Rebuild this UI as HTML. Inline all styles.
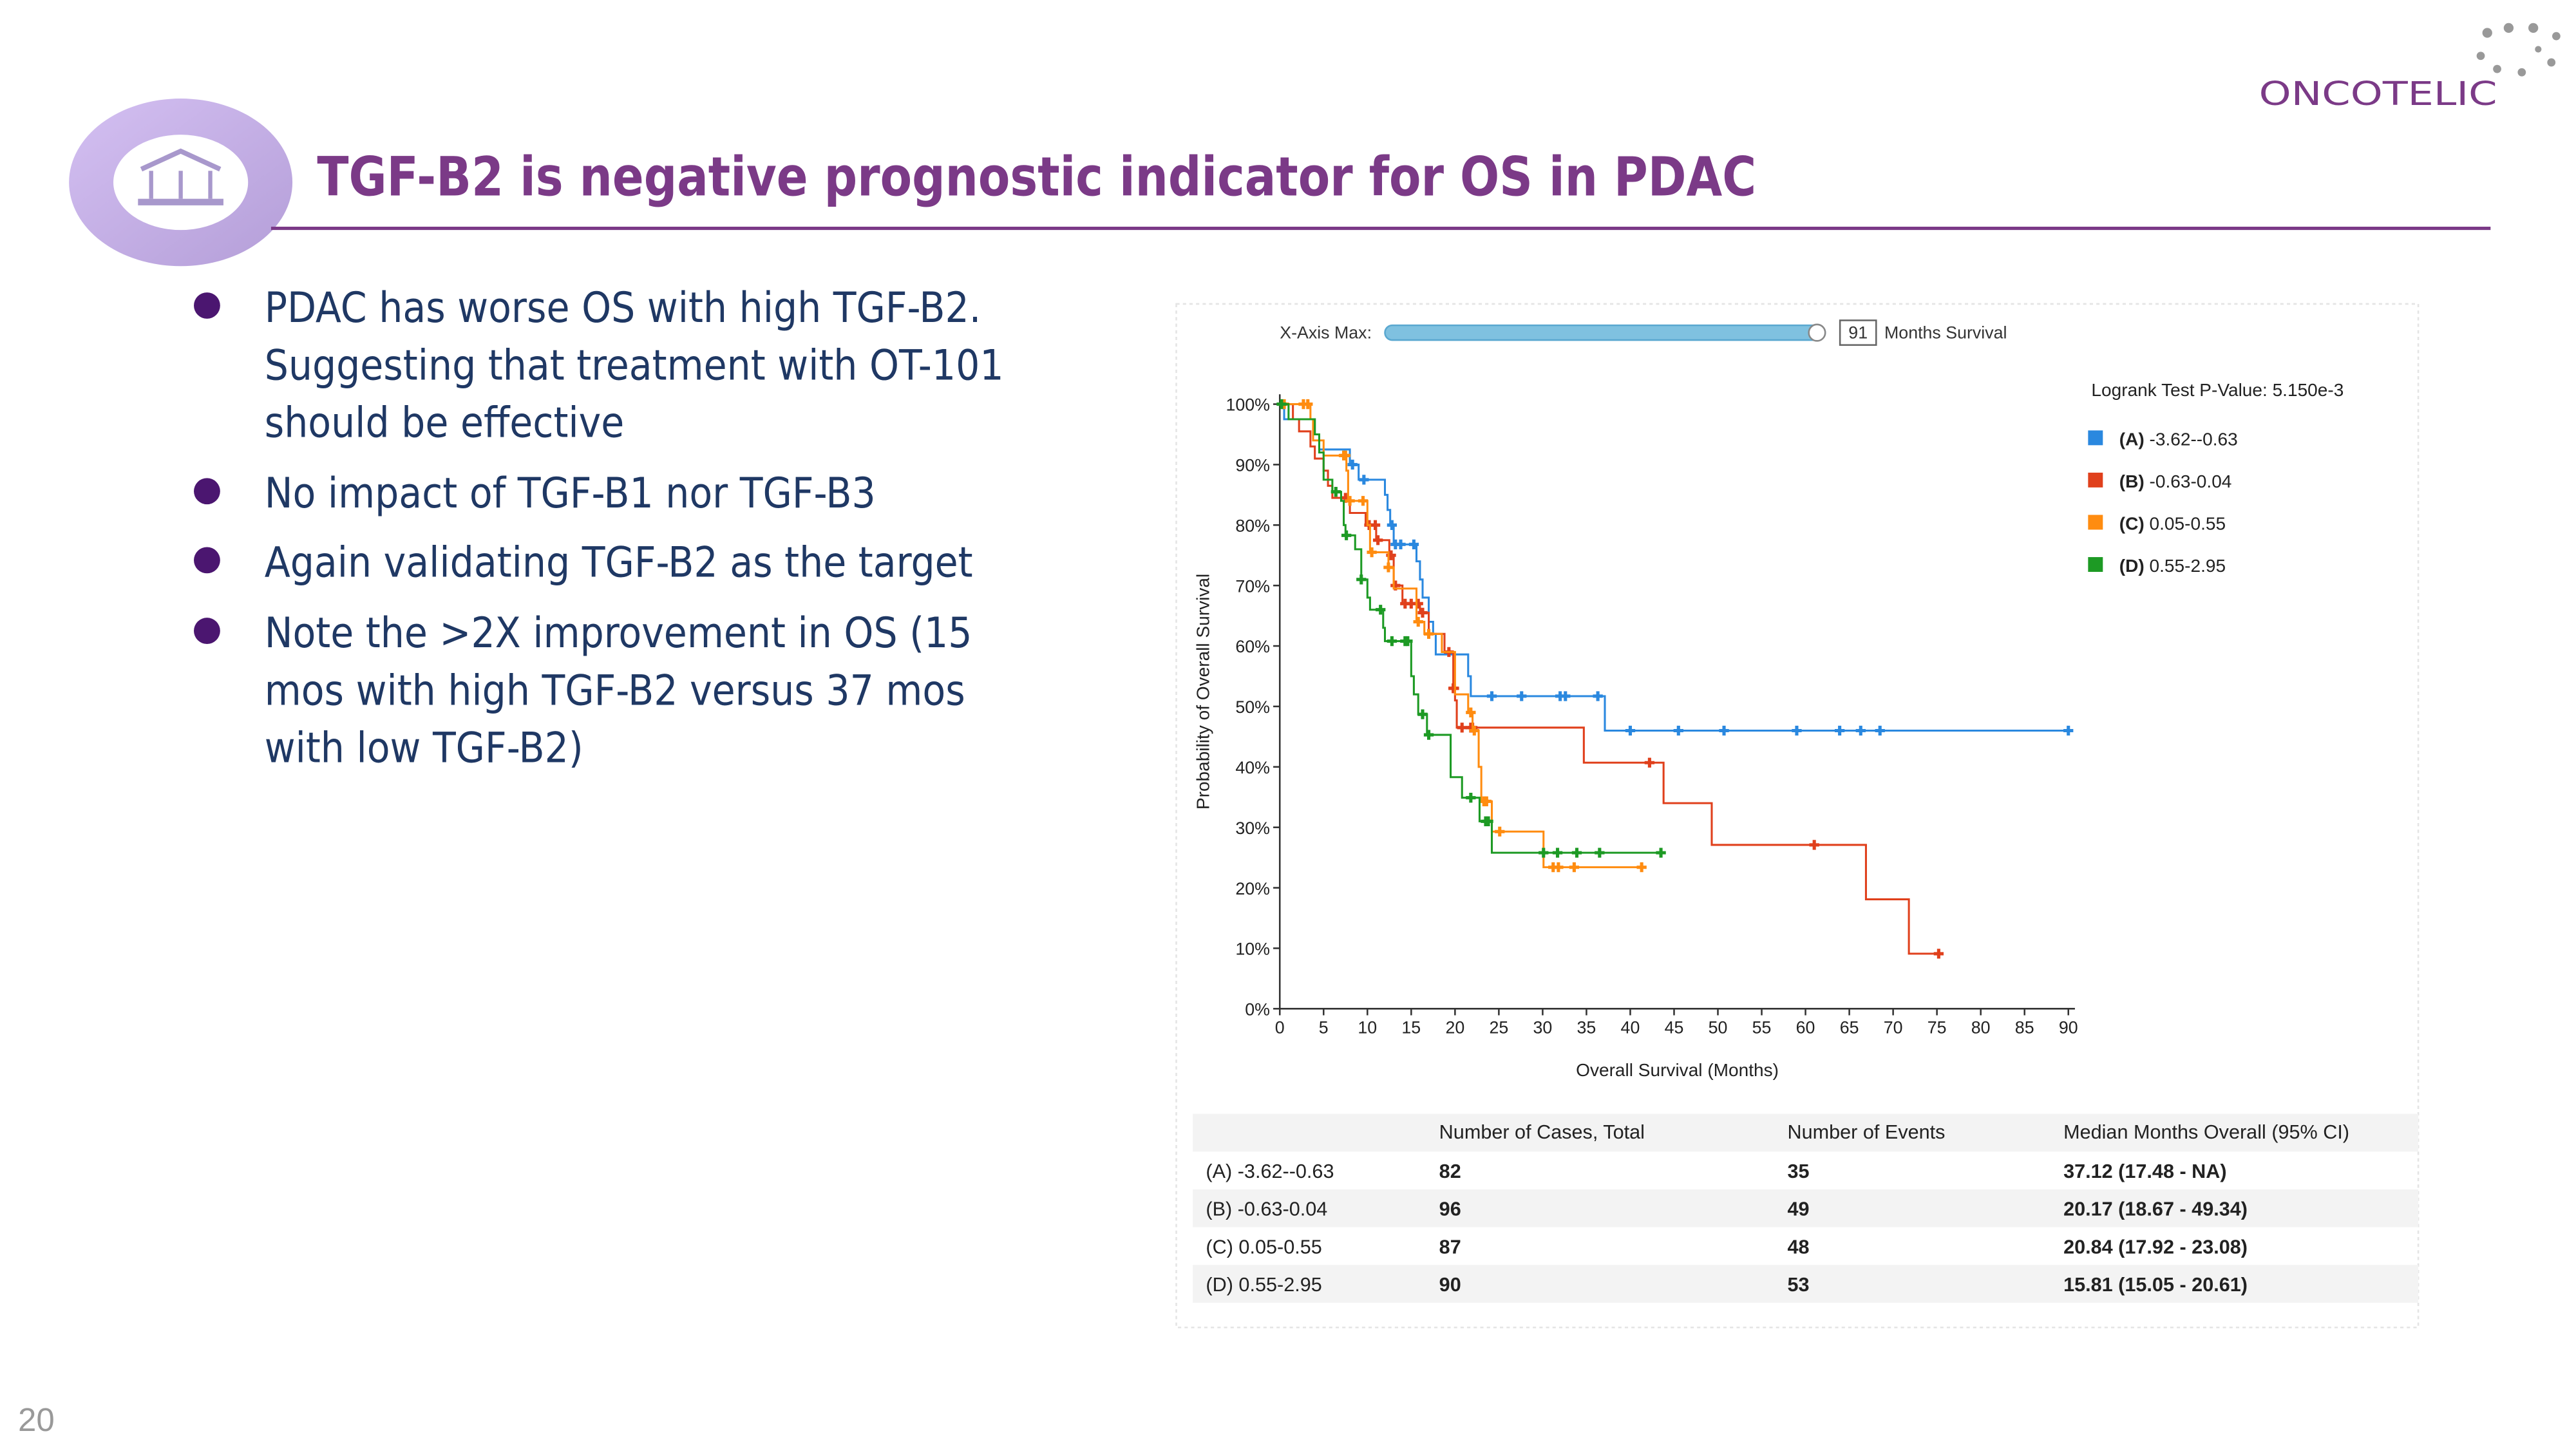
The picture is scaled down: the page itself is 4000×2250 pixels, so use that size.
<!DOCTYPE html>
<html><head><meta charset="utf-8"><style>
html,body{margin:0;padding:0;background:#fff;}
svg{display:block;font-family:"Liberation Sans",sans-serif;}
</style></head><body>
<svg id="s" width="4000" height="2250" viewBox="0 0 1568 882" xmlns="http://www.w3.org/2000/svg">
<defs><linearGradient id="g1" x1="0" y1="0" x2="1" y2="1"><stop offset="0" stop-color="#d4c0f2"/><stop offset="1" stop-color="#b49ed8"/></linearGradient></defs>
<g>
<ellipse cx="110" cy="111" rx="68" ry="51" fill="url(#g1)"/>
<ellipse cx="110" cy="111" rx="41" ry="29" fill="#fff"/>
<path d="M86 103 L110 92 L134 103" fill="none" stroke="#a898cc" stroke-width="3"/>
<line x1="92" y1="104" x2="92" y2="121" stroke="#a898cc" stroke-width="2.5"/>
<line x1="110" y1="104" x2="110" y2="121" stroke="#a898cc" stroke-width="2.5"/>
<line x1="128" y1="104" x2="128" y2="121" stroke="#a898cc" stroke-width="2.5"/>
<rect x="84" y="121" width="52" height="4" fill="#a898cc"/>
</g>
<text x="193" y="119" font-size="33" font-weight="bold" fill="#7b3a87" textLength="876" lengthAdjust="spacingAndGlyphs" font-family="'DejaVu Sans Condensed','Liberation Sans',sans-serif">TGF-B2 is negative prognostic indicator for OS in PDAC</text>
<line x1="165" y1="139" x2="1516" y2="139" stroke="#7b3a87" stroke-width="2"/>
<g>
<text x="1375" y="64" font-size="20" fill="#7b3a87" textLength="145" lengthAdjust="spacingAndGlyphs" font-family="'DejaVu Sans','Liberation Sans',sans-serif">ONCOTELIC</text>
<g fill="#999"><circle cx="1514" cy="20" r="3"/><circle cx="1527" cy="17" r="3"/><circle cx="1542" cy="17" r="3"/><circle cx="1556" cy="22" r="2.5"/><circle cx="1510" cy="34" r="2.5"/><circle cx="1520" cy="42" r="2.5"/><circle cx="1535" cy="44" r="2.5"/><circle cx="1553" cy="38" r="2.5"/><circle cx="1545" cy="30" r="2"/></g>
</g>
<g font-size="25.5" fill="#1f3864" font-family="'DejaVu Sans Condensed','Liberation Sans',sans-serif">
<g fill="#4b1670"><circle cx="126" cy="186" r="8"/><circle cx="126" cy="299" r="8"/><circle cx="126" cy="341" r="8"/><circle cx="126" cy="384" r="8"/></g>
<text x="161" y="196">PDAC has worse OS with high TGF-B2.</text>
<text x="161" y="231">Suggesting that treatment with OT-101</text>
<text x="161" y="266">should be effective</text>
<text x="161" y="309">No impact of TGF-B1 nor TGF-B3</text>
<text x="161" y="351">Again validating TGF-B2 as the target</text>
<text x="161" y="394">Note the &gt;2X improvement in OS (15</text>
<text x="161" y="429">mos with high TGF-B2 versus 37 mos</text>
<text x="161" y="464">with low TGF-B2)</text>
</g>
<text x="11" y="871" font-size="20" fill="#999">20</text>
<rect x="716" y="185" width="756" height="623" fill="none" stroke="#e4e4e4" stroke-dasharray="2,2"/>
<g font-size="10.5" fill="#333">
<text x="779" y="206">X-Axis Max:</text>
<rect x="843" y="198" width="268" height="9" rx="4.5" fill="#7fc1e0" stroke="#5aa8d0"/>
<circle cx="1106" cy="202.5" r="5" fill="#fff" stroke="#888"/>
<rect x="1120" y="195" width="22" height="15" fill="#fff" stroke="#666"/>
<text x="1131" y="206" text-anchor="middle">91</text>
<text x="1147" y="206">Months Survival</text>
</g>
<g id="chart"></g>
<g font-size="12" fill="#222">
<rect x="726" y="678" width="746" height="23" fill="#f3f3f3"/>
<rect x="726" y="724" width="746" height="23" fill="#f3f3f3"/>
<rect x="726" y="770" width="746" height="23" fill="#f3f3f3"/>
<text x="876" y="693">Number of Cases, Total</text><text x="1088" y="693">Number of Events</text><text x="1256" y="693">Median Months Overall (95% CI)</text>
<text x="734" y="717">(A) -3.62--0.63</text><text x="876" y="717" font-weight="bold">82</text><text x="1088" y="717" font-weight="bold">35</text><text x="1256" y="717" font-weight="bold">37.12 (17.48 - NA)</text>
<text x="734" y="740">(B) -0.63-0.04</text><text x="876" y="740" font-weight="bold">96</text><text x="1088" y="740" font-weight="bold">49</text><text x="1256" y="740" font-weight="bold">20.17 (18.67 - 49.34)</text>
<text x="734" y="763">(C) 0.05-0.55</text><text x="876" y="763" font-weight="bold">87</text><text x="1088" y="763" font-weight="bold">48</text><text x="1256" y="763" font-weight="bold">20.84 (17.92 - 23.08)</text>
<text x="734" y="786">(D) 0.55-2.95</text><text x="876" y="786" font-weight="bold">90</text><text x="1088" y="786" font-weight="bold">53</text><text x="1256" y="786" font-weight="bold">15.81 (15.05 - 20.61)</text>
</g>
</svg>
<script>
const seriesNames=["(A) -3.62--0.63","(B) -0.63-0.04","(C) 0.05-0.55","(D) 0.55-2.95"];
const seriesColors=["#2a88df","#e0401c","#ff8c10","#1d9a24"];
const xTicks=[0,5,10,15,20,25,30,35,40,45,50,55,60,65,70,75,80,85,90];
const yTicks=[0,10,20,30,40,50,60,70,80,90,100];
const stepsA=[[0.5,97.5],[4,95],[4.5,92.5],[8,90],[9,87.5],[12,85],[12.3,82.5],[12.6,80],[13,76.8],[15.6,74],[16,71],[16.3,68],[17,64],[17.5,62],[17.8,58.6],[21.5,55],[21.8,51.7],[37.1,46]];
const censA=[8.3,9.6,12.8,13.2,13.8,15.3,24.2,27.6,32,32.6,36.3,40,45.5,50.7,59,63.9,66.3,68.5,90];
const stepsB=[[1.5,97.5],[2.2,95.5],[3.5,93],[4,91],[5,89],[5.5,86.5],[6,84.5],[8,82],[9.8,80],[11,77.5],[12.5,75],[13,70],[14,67],[16,65.5],[17,62],[18.8,59],[19.8,53],[20,51],[20.2,46.5],[34.7,40.7],[43.8,34],[49.3,27.1],[66.9,18.1],[71.8,9.1]];
const censB=[7.5,10.2,10.9,11.2,12.7,13.2,14.3,15,15.8,16.3,19.3,19.8,19.9,20.8,21.8,22,42.2,61,75.2];
const stepsC=[[3.5,97.5],[3.8,94],[5,91.5],[7.6,89],[7.8,84],[10,80],[10.3,75.5],[12.4,73],[13,69.5],[15.6,64],[16.5,62],[18.5,59],[20,52],[21.5,49],[22,46],[22.7,40],[23,34.3],[24.2,29.3],[30.1,23.4]];
const censC=[0.5,2.7,3.2,7.3,7.5,8,9.5,10.5,12.4,15.8,17,21.8,22.2,23.3,23.6,25.1,31.2,31.8,33.6,41.3];
const stepsD=[[1,97.5],[4,95],[4.5,92],[5,87.5],[6,85.5],[7,84],[7.3,80],[7.5,78.3],[8.6,76],[9.3,71],[10,68],[10.3,66],[11.8,63],[12,60.8],[15,55],[15.3,52],[15.8,48.7],[16.8,45.3],[19.5,38.3],[20.8,34.9],[22.8,31],[24.2,25.8]];
const censD=[0.2,6.4,7.6,9.3,11.5,12.8,14.3,14.6,16.3,17,21.8,23.5,23.8,30.1,31.7,33.9,36.5,43.5];
const logrankText="Logrank Test P-Value: 5.150e-3";

const NS="http://www.w3.org/2000/svg";
const g=document.getElementById("chart");
const X0=779,X1=1259,Y0=614,Y1=246;
function x(t){return X0+t*(X1-X0)/90;}
function y(p){return Y0-p*(Y0-Y1)/100;}
function mk(tag,attrs,parent){const e=document.createElementNS(NS,tag);for(const k in attrs)e.setAttribute(k,attrs[k]);(parent||g).appendChild(e);return e;}
function survAt(steps,t){let v=100;for(const s of steps){if(s[0]<=t)v=s[1];}return v;}

const xa=mk("line",{x1:X0,y1:Y0,x2:X1+4,y2:Y0,stroke:"#333"});


const ya=mk("line",{x1:X0,y1:Y0,x2:X0,y2:Y1-6,stroke:"#333"});


xTicks.forEach(t=>{
  mk("line",{x1:x(t),y1:Y0,x2:x(t),y2:Y0+4,stroke:"#333"});
  const tx=mk("text",{x:x(t),y:Y0+15,"font-size":"10.5","text-anchor":"middle",fill:"#222"});
  tx.textContent=t;
  
  
});
yTicks.forEach(p=>{
  mk("line",{x1:X0-4,y1:y(p),x2:X0,y2:y(p),stroke:"#333"});
  const tx=mk("text",{x:X0-6,y:y(p)+4,"font-size":"10.5","text-anchor":"end",fill:"#222"});
  tx.textContent=p+"%";
  
  
});
const xt=mk("text",{x:1021,y:655,"font-size":"11","text-anchor":"middle",fill:"#222"});
xt.textContent="Overall Survival (Months)";


const yt=mk("text",{x:0,y:0,"font-size":"11","text-anchor":"middle",fill:"#222",transform:"translate(736,421) rotate(-90)"});
yt.textContent="Probability of Overall Survival";



const allSteps=[stepsA,stepsB,stepsC,stepsD];
const allCens=[censA,censB,censC,censD];
allSteps.forEach((steps,i)=>{
  const cens=allCens[i];
  const end=Math.max(steps[steps.length-1][0],cens[cens.length-1]);
  let d="M"+x(0)+","+y(100);let cur=100;
  steps.forEach(s=>{d+=" L"+x(s[0])+","+y(cur)+" L"+x(s[0])+","+y(s[1]);cur=s[1];});
  d+=" L"+x(end)+","+y(cur);
  const p=mk("path",{d:d,fill:"none",stroke:seriesColors[i],"stroke-width":"1.2"});
  
  
  cens.forEach(t=>{
    const v=survAt(steps,t);
    const c=mk("path",{d:"M"+(x(t)-3)+","+y(v)+"h6M"+x(t)+","+(y(v)-3)+"v6",stroke:seriesColors[i],"stroke-width":"2"});
    
    
  });
});
const lg=mk("text",{x:1273,y:241,"font-size":"11",fill:"#222"});
lg.textContent=logrankText;


seriesNames.forEach((n,i)=>{
  const yy=267+i*25.7;
  const r=mk("rect",{x:1271,y:yy-5,width:9,height:9,fill:seriesColors[i]});
  
  
  const t=mk("text",{x:1290,y:yy+4,"font-size":"11",fill:"#222"});
  const m=n.match(/^(\(\w\))(.*)$/);
  const b=document.createElementNS(NS,"tspan");b.setAttribute("font-weight","bold");b.textContent=m[1];t.appendChild(b);
  t.appendChild(document.createTextNode(m[2]));
  
  
});
</script>
</body></html>
